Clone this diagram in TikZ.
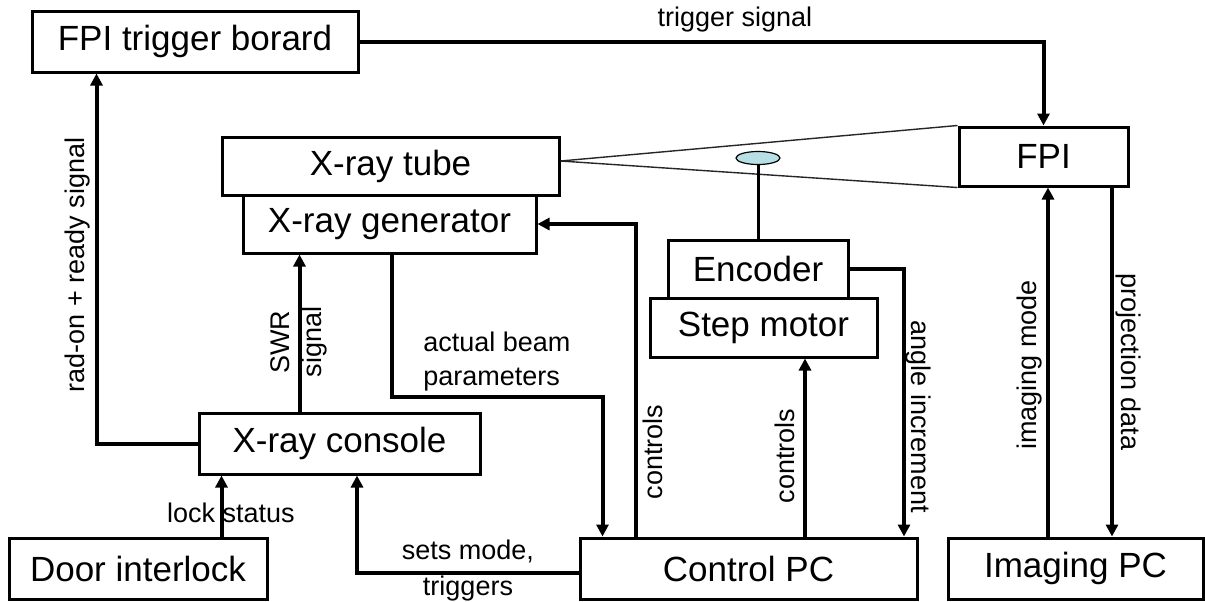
\documentclass[tikz,border=0pt]{standalone}
\usepackage{fontspec}
\setmainfont{Liberation Sans}
\usetikzlibrary{arrows.meta,calc,shapes.geometric}
\definecolor{lensblue}{RGB}{183,224,230}
\tikzset{
  box/.style={draw,line width=1.5pt,inner sep=0pt,font=\fontsize{17.5}{21}\selectfont},
  lbl/.style={inner sep=0pt,font=\fontsize{13.5}{16}\selectfont},
  conn/.style={line width=2pt,-{Triangle[length=6pt,width=6pt]}},
  beam/.style={line width=0.7pt,black!85},
}
\begin{document}
\begin{tikzpicture}[x=0.5pt,y=-0.5pt]
\useasboundingbox (0,0) rectangle (1205,601);
% boxes
\node[box,minimum width=163pt,minimum height=30.5pt] (board) at (195,41.5) {FPI trigger borard};
\node[box,minimum width=168.5pt,minimum height=29pt] (tube) at (390.5,166) {X-ray tube};
\node[box,minimum width=146.5pt,minimum height=29pt] (gen) at (389.5,224) {X-ray generator};
\node[box,minimum width=84.5pt,minimum height=29.5pt] (fpi) at (1043.5,156.5) {FPI};
\node[box,minimum width=90pt,minimum height=29pt] (enc) at (758,269) {Encoder};
\node[box,minimum width=113.5pt,minimum height=29.5pt] (motor) at (763.5,327.5) {Step motor};
\node[box,minimum width=140.5pt,minimum height=30.5pt] (console) at (339.5,443.5) {X-ray console};
\node[box,minimum width=129pt,minimum height=30.5pt] (door) at (138,568.5) {Door interlock};
\node[box,minimum width=168.5pt,minimum height=30.5pt] (cpc) at (748.5,568.5) {Control PC};
\node[box,minimum width=127.5pt,minimum height=30.5pt] (ipc) at (1075.5,568.5) {Imaging PC};

% beam and rotation axis
\coordinate (apex) at ($(tube.east)+(0,-5)$);
\draw[beam] (fpi.north west) -- (apex) -- (fpi.south west);
\node[ellipse,draw,line width=0.6pt,fill=lensblue,inner sep=0pt,
      minimum width=22pt,minimum height=6.5pt] (lens) at (758,158) {};
\draw[line width=1.5pt] (lens.south) -- (enc.north);

% connectors
\coordinate (swr) at ($(console.north)+(-40,0)$);
\coordinate (lock) at ($(console.south)+(-118,0)$);
\coordinate (sets) at ($(console.south)+(17.5,0)$);
\coordinate (beamin) at ($(cpc.north)+(-146,0)$);
\coordinate (ctlgen) at ($(cpc.north)+(-112.5,0)$);
\coordinate (ctlmot) at ($(cpc.north)+(56.5,0)$);
\coordinate (angle) at ($(cpc.north)+(155.5,0)$);
\coordinate (imode) at ($(ipc.north)+(-27.5,0)$);
\coordinate (proj) at ($(ipc.north)+(36.5,0)$);

\draw[conn] (board.east) -| (fpi.north);
\draw[conn] (console.west) -| ($(board.south west)+(66,0)$);
\draw[conn] (swr) -- (swr |- gen.south);
\draw[conn] (lock |- door.north) -- (lock);
\draw[conn] ($(cpc.west)+(0,4.5)$) -| (sets);
\draw[conn] ($(gen.south)+(2.5,0)$) |- ($(beamin)+(0,-140)$) -- (beamin);
\draw[conn] (ctlgen) |- (gen.east);
\draw[conn] (ctlmot) -- (ctlmot |- motor.south);
\draw[conn] (enc.east) -| (angle);
\draw[conn] (imode) -- (imode |- fpi.south);
\draw[conn] (proj |- fpi.south) -- (proj);

% labels
\node[lbl] (ltrig) at (735,20) {trigger signal};
\node[lbl,rotate=90] (lrad) at (78,265) {rad-on + ready signal};
\node[lbl,rotate=90] (lswr) at (280,342) {SWR};
\node[lbl,rotate=90] (lsig) at (315,342) {signal};
\node[lbl,align=left,anchor=west] (lbeam) at (423,362) {actual beam\\[1pt]parameters};
\node[lbl,rotate=90] (lctl1) at (653,452) {controls};
\node[lbl,rotate=90] (lctl2) at (785,456) {controls};
\node[lbl,rotate=-90] (langle) at (918,417) {angle increment};
\node[lbl,rotate=90] (limode) at (1030,365) {imaging mode};
\node[lbl,rotate=-90] (lproj) at (1128,362) {projection data};
\node[lbl] (llock) at (231,513) {lock status};
\node[lbl,align=center] (lsets) at (468,571) {sets mode,\\[2pt]triggers};
\end{tikzpicture}
\end{document}
